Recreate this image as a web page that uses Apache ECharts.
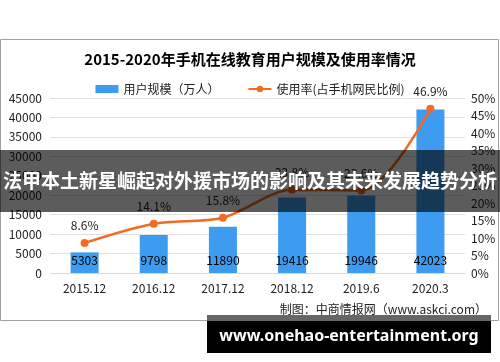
<!DOCTYPE html>
<html><head><meta charset="utf-8">
<script src="https://cdn.jsdelivr.net/npm/echarts@6/dist/echarts.min.js"></script>
<style>html,body{margin:0;padding:0;background:#fff}#c{width:500px;height:362px}</style>
</head><body><div id="c"></div>
<script>
const categories = ['2015.12','2016.12','2017.12','2018.12','2019.6','2020.3'];
const users = [5303, 9798, 11890, 19416, 19946, 42023];
const rate = [8.6, 14.1, 15.8, 23.8, 23.6, 46.9];
const titleText = '2015-2020年手机在线教育用户规模及使用率情况';
const legendNames = ['用户规模（万人）', '使用率(占手机网民比例)'];
const sourceText = '制图：中商情报网（www.askci.com）';
const bannerText = '法甲本土新星崛起对外援市场的影响及其未来发展趋势分析';
const siteText = 'www.onehao-entertainment.org';

const FF = '"Noto Sans CJK SC", "Noto Sans", sans-serif';
const chart = echarts.init(document.getElementById('c'), null, {renderer:'canvas'});
chart.setOption({
  animation: false,
  textStyle: {fontFamily: FF},
  title: {text: titleText, left: 'center', top: 47,
    textStyle: {fontSize: 15, fontWeight: 'bold', color: '#000', fontFamily: FF}},
  legend: {top: 78, left: 'center', itemWidth: 23, itemHeight: 8, itemGap: 28,
    textStyle: {fontSize: 12, color: '#222', fontFamily: FF},
    data: [{name: legendNames[0], icon: 'rect'}, {name: legendNames[1]}]},
  grid: {left: 50, right: 35, top: 98, bottom: 89},
  xAxis: {type: 'category', data: categories,
    axisLine: {lineStyle: {color: '#d9d9d9'}}, axisTick: {show: false},
    axisLabel: {color: '#222', fontSize: 12, margin: 9, fontFamily: FF}},
  yAxis: [
    {type: 'value', min: 0, max: 45000, interval: 5000,
      axisLine: {show: false}, axisTick: {show: false},
      splitLine: {lineStyle: {color: '#e0e0e0'}},
      axisLabel: {color: '#222', fontSize: 12, margin: 8, fontFamily: FF, formatter: v => String(v)}},
    {type: 'value', min: 0, max: 50, interval: 5,
      axisLine: {show: false}, axisTick: {show: false}, splitLine: {show: false},
      axisLabel: {color: '#222', fontSize: 12, margin: 6, formatter: '{value}%', fontFamily: FF}}
  ],
  series: [
    {name: legendNames[0], type: 'bar', data: users, barWidth: 28,
      itemStyle: {color: '#3d9bf0'},
      label: {show: true, position: 'insideBottom', distance: 7, color: '#000', fontSize: 12, fontFamily: FF}},
    {name: legendNames[1], type: 'line', yAxisIndex: 1, data: rate, smooth: 0.3,
      symbol: 'circle', symbolSize: 8,
      lineStyle: {color: '#f26b21', width: 2.5}, itemStyle: {color: '#f26b21'},
      label: {show: true, position: 'top', distance: 7, color: '#222', fontSize: 12,
        formatter: p => p.value.toFixed(1) + '%', fontFamily: FF}}
  ],
  graphic: [
    {type: 'rect', z: -1, shape: {x: 0.5, y: 39.5, width: 498, height: 281},
      style: {fill: 'none', stroke: '#a0a0a0', lineWidth: 1}},
    {type: 'text', right: 13, top: 303, style: {text: sourceText, fill: '#222', font: '12px ' + FF}},
    {type: 'rect', z: 100, shape: {x: 0, y: 150, width: 500, height: 62},
      style: {fill: 'rgba(0,0,0,0.64)'}},
    {type: 'text', z: 101, x: 250, y: 181,
      style: {text: bannerText, fill: '#fff', font: 'bold 19px ' + FF, textAlign: 'center', textVerticalAlign: 'middle'}},
    {type: 'rect', z: 100, shape: {x: 207, y: 315, width: 284, height: 6}, style: {fill: '#666'}},
    {type: 'rect', z: 100, shape: {x: 207, y: 321, width: 284, height: 32}, style: {fill: '#000'}},
    {type: 'text', z: 101, x: 349, y: 336,
      style: {text: siteText, fill: '#fff', font: 'bold 16px "Noto Sans", sans-serif', textAlign: 'center', textVerticalAlign: 'middle'}}
  ]
});
</script></body></html>
